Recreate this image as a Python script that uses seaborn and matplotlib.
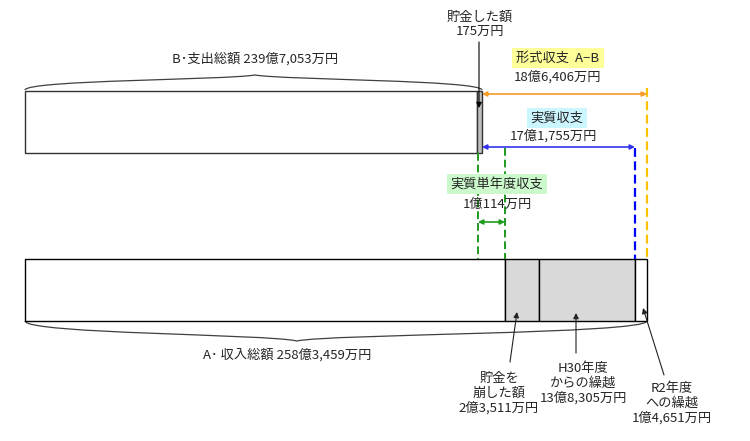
import numpy as np
import matplotlib.pyplot as plt
import seaborn as sns
from matplotlib.path import Path
from matplotlib.patches import PathPatch

sns.set_style("white")
plt.rcParams['font.family'] = ['Noto Sans CJK JP', 'DejaVu Sans']

# 模式図なので幅は図から読んだ目安（画面上の長さ）
expense_parts = [452, 5]            # B: 支出, 貯金した額
expense_colors = ['white', '#bfbfbf']
income_parts = [480, 34, 96, 12]    # A: 収入, 貯金を崩した額, H30繰越, R2繰越
income_colors = ['white', '#d9d9d9', '#d9d9d9', 'white']
bar_start = 25
bar_rows = [122, 289.5]             # B, A
bar_height = 62

label_B = "B･支出総額 239億7,053万円"
label_A = "A･ 収入総額 258億3,459万円"
label_saved = "貯金した額\n175万円"
label_keishiki = ("形式収支  A−B", "18億6,406万円")
label_jisshitsu = ("実質収支", "17億1,755万円")
label_tannendo = ("実質単年度収支", "1億114万円")
bottom_labels = ["貯金を\n崩した額\n2億3,511万円",
                 "H30年度\nからの繰越\n13億8,305万円",
                 "R2年度\nへの繰越\n1億4,651万円"]

fig = plt.figure(figsize=(7.5, 4.41), dpi=100)
ax = fig.add_axes([0, 0, 1, 1])
ax.set_xlim(0, 750)
ax.set_ylim(441, 0)
ax.axis('off')


def stacked(parts, colors, y, edge):
    left = bar_start + np.concatenate([[0], np.cumsum(parts)[:-1]])
    ax.barh(y, parts, left=left, height=bar_height, color=colors,
            edgecolor=edge, linewidth=1, zorder=2)
    return left, left + np.array(parts)


e_left, e_right = stacked(expense_parts, expense_colors, bar_rows[0], '#333333')
i_left, i_right = stacked(income_parts, income_colors, bar_rows[1], 'black')

top_bottom = bar_rows[0] + bar_height / 2
low_top = bar_rows[1] - bar_height / 2
top_top = bar_rows[0] - bar_height / 2

x_b_end = e_right[-1]
x_a_end = i_right[-1]
x_jiss = i_left[-1]
x_tan0 = e_left[-1] + 1
x_tan1 = i_left[1]

dash = (0, (4, 2))
ax.vlines(x_a_end, top_top - 3, low_top, colors='#ffc000', linestyles=dash, lw=1.6)
ax.vlines(x_jiss, 148, low_top, colors='#0000ff', linestyles=dash, lw=1.6)
ax.vlines(x_tan0, top_bottom, low_top, colors='#1f9a1f', linestyles=dash, lw=1.4)
ax.vlines(x_tan1, 148, low_top, colors='#1f9a1f', linestyles=dash, lw=1.4)


def dbl_arrow(x0, x1, y, color):
    ax.annotate('', xy=(x1, y), xytext=(x0, y),
                arrowprops=dict(arrowstyle='<|-|>', color=color, lw=1.2,
                                mutation_scale=7, shrinkA=0, shrinkB=0))


dbl_arrow(x_b_end, x_a_end, 94, '#f59b22')
dbl_arrow(x_b_end, x_jiss, 147, '#3333ee')
dbl_arrow(x_tan0, x_tan1, 222, '#1f9a1f')


def brace(x0, x1, xm, ye, ym, yt):
    verts = [(x0, ye), (x0 + 2, ym), (xm - 30, ym), (xm, yt),
             (xm + 30, ym), (x1 - 2, ym), (x1, ye)]
    codes = [Path.MOVETO, Path.CURVE4, Path.CURVE4, Path.CURVE4,
             Path.CURVE4, Path.CURVE4, Path.CURVE4]
    ax.add_patch(PathPatch(Path(verts, codes), fc='none', ec='#404040', lw=0.9))


brace(bar_start, x_b_end, 255, 90, 80, 75)
brace(bar_start, x_a_end, 297, 321, 334, 341)

fs = 9.5
ax.text(255, 59, label_B, ha='center', va='center', fontsize=fs)
ax.text(287, 355, label_A, ha='center', va='center', fontsize=fs)

ax.text(480, 24, label_saved, ha='center', va='center', fontsize=fs, linespacing=1.1)
ax.annotate('', xy=(479, 108), xytext=(479, 42),
            arrowprops=dict(arrowstyle='-|>', color='black', lw=0.8,
                            mutation_scale=8, shrinkA=0, shrinkB=0))

ax.text(558, 58, label_keishiki[0], ha='center', va='center', fontsize=fs,
        bbox=dict(boxstyle='square,pad=0.3', fc='#ffff99', ec='none'))
ax.text(558, 77, label_keishiki[1], ha='center', va='center', fontsize=fs)
ax.text(557, 118, label_jisshitsu[0], ha='center', va='center', fontsize=fs,
        bbox=dict(boxstyle='square,pad=0.3', fc='#ccf6ff', ec='none'))
ax.text(553, 136, label_jisshitsu[1], ha='center', va='center', fontsize=fs)
ax.text(497, 184, label_tannendo[0], ha='center', va='center', fontsize=fs,
        bbox=dict(boxstyle='square,pad=0.3', fc='#ccf9cc', ec='none'))
ax.text(497, 204, label_tannendo[1], ha='center', va='center', fontsize=fs)

label_pos = [(499, 393), (583, 383), (672, 403)]
arrow_tail = [(510, 362), (576, 353), (664, 375)]
arrow_tip = [(517, 312), (576, 313), (643, 308)]
for txt, pos, tail, tip in zip(bottom_labels, label_pos, arrow_tail, arrow_tip):
    ax.text(*pos, txt, ha='center', va='center', fontsize=fs, linespacing=1.15)
    ax.annotate('', xy=tip, xytext=tail,
                arrowprops=dict(arrowstyle='-|>', color='#222222', lw=0.8,
                                mutation_scale=8, shrinkA=0, shrinkB=0))

fig.savefig('out.png', dpi=100, facecolor='white')
